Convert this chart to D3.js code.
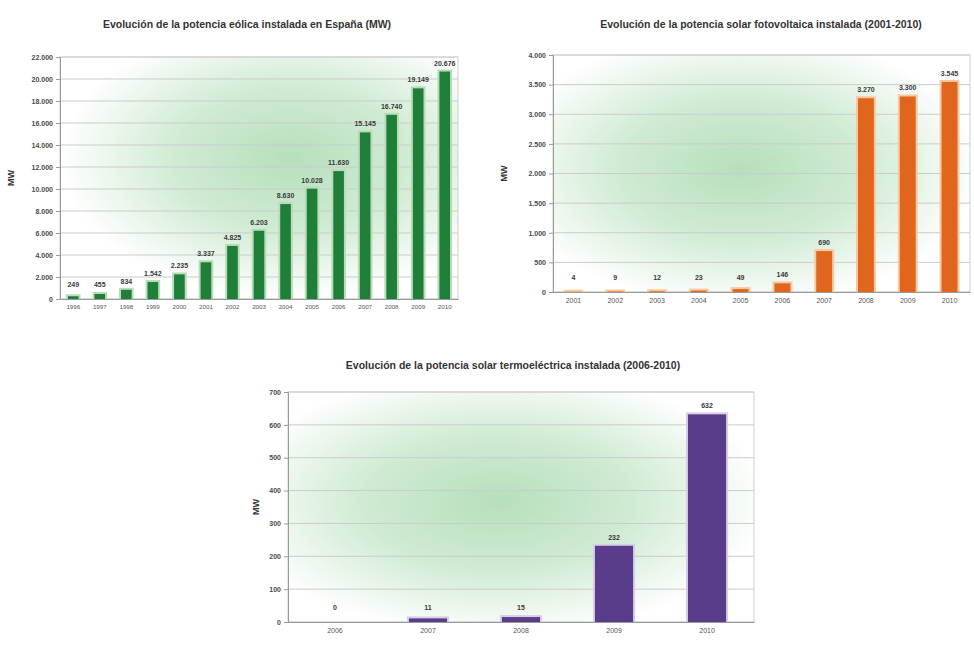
<!DOCTYPE html>
<html>
<head>
<meta charset="utf-8">
<script src="https://cdn.jsdelivr.net/npm/d3@7"></script>
<style>
  html, body { margin: 0; padding: 0; background: #fff; }
  svg { display: block; font-family: "Liberation Sans", Arial, sans-serif; }
</style>
</head>
<body>
<svg id="chart" width="974" height="646"></svg>
<script>
// Potencia eólica instalada (MW)
const windYears = ["1996","1997","1998","1999","2000","2001","2002","2003","2004","2005","2006","2007","2008","2009","2010"];
const windMW = [249, 455, 834, 1542, 2235, 3337, 4825, 6203, 8630, 10028, 11630, 15145, 16740, 19149, 20676];
const windTicks = [0, 2000, 4000, 6000, 8000, 10000, 12000, 14000, 16000, 18000, 20000, 22000];

// Potencia solar fotovoltaica instalada (MW)
const pvYears = ["2001","2002","2003","2004","2005","2006","2007","2008","2009","2010"];
const pvMW = [4, 9, 12, 23, 49, 146, 690, 3270, 3300, 3545];
const pvTicks = [0, 500, 1000, 1500, 2000, 2500, 3000, 3500, 4000];

// Potencia solar termoeléctrica instalada (MW)
const cspYears = ["2006","2007","2008","2009","2010"];
const cspMW = [0, 11, 15, 232, 632];
const cspTicks = [0, 100, 200, 300, 400, 500, 600, 700];

const titles = [
  "Evolución de la potencia eólica instalada en España (MW)",
  "Evolución de la potencia solar fotovoltaica instalada (2001-2010)",
  "Evolución de la potencia solar termoeléctrica instalada (2006-2010)"
];

const fmt = d3.formatLocale({decimal: ",", thousands: ".", grouping: [3], currency: ["", "€"]}).format(",d");

const svg = d3.select("#chart");
const defs = svg.append("defs");

function drawChart(opt) {
  const g = svg.append("g");
  const [x0, x1] = opt.xr, [yTop, yBot] = opt.yr;

  // soft green glow behind the plot
  const gid = "glow" + opt.id;
  const grad = defs.append("radialGradient").attr("id", gid)
    .attr("cx", opt.glow[0]).attr("cy", opt.glow[1]).attr("r", opt.glow[2]);
  grad.append("stop").attr("offset", "0%").attr("stop-color", "#b6dfbd");
  grad.append("stop").attr("offset", "50%").attr("stop-color", "#d0ebd3");
  grad.append("stop").attr("offset", "100%").attr("stop-color", "#ffffff");

  g.append("rect").attr("x", x0).attr("y", yTop).attr("width", x1 - x0).attr("height", yBot - yTop)
    .attr("fill", `url(#${gid})`);

  const x = d3.scaleBand().domain(opt.cats).range([x0, x1]).paddingInner(opt.pad).paddingOuter(0.3);
  const y = d3.scaleLinear().domain([0, d3.max(opt.ticks)]).range([yBot, yTop]);

  // grid lines
  g.append("g").selectAll("line").data(opt.ticks).join("line")
    .attr("x1", x0).attr("x2", x1).attr("y1", d => y(d)).attr("y2", d => y(d))
    .attr("stroke", "#c9cdc9").attr("stroke-width", 1);

  // frame
  g.append("rect").attr("x", x0).attr("y", yTop).attr("width", x1 - x0).attr("height", yBot - yTop)
    .attr("fill", "none").attr("stroke", "#cfcfcf");

  // y axis
  const ya = g.append("g").attr("transform", `translate(${x0},0)`)
    .call(d3.axisLeft(y).tickValues(opt.ticks).tickFormat(fmt).tickSize(4).tickPadding(3));
  ya.select(".domain").attr("stroke", "#9a9a9a");
  ya.selectAll(".tick line").attr("stroke", "#9a9a9a");
  ya.selectAll("text").attr("font-size", opt.tickFont).attr("fill", "#4a4a4a").attr("font-weight", "bold");

  // x axis
  const xa = g.append("g").attr("transform", `translate(0,${yBot})`)
    .call(d3.axisBottom(x).tickSize(0).tickPadding(6));
  xa.select(".domain").attr("stroke", "#9a9a9a");
  xa.selectAll("text").attr("font-size", opt.xFont).attr("fill", "#555");

  // bars: pale halo, then solid bar (only where there is a value)
  const present = opt.vals.map((v, i) => ({v, c: opt.cats[i]})).filter(d => d.v > 0);
  g.append("g").selectAll("rect").data(present).join("rect")
    .attr("x", d => x(d.c) - 2).attr("width", x.bandwidth() + 4)
    .attr("y", d => y(d.v) - 2).attr("height", d => yBot - y(d.v) + 2)
    .attr("fill", opt.halo);
  g.append("g").selectAll("rect").data(present).join("rect")
    .attr("x", d => x(d.c)).attr("width", x.bandwidth())
    .attr("y", d => y(d.v)).attr("height", d => yBot - y(d.v))
    .attr("fill", opt.color);

  // value labels
  g.append("g").selectAll("text").data(opt.vals).join("text")
    .attr("x", (d, i) => x(opt.cats[i]) + x.bandwidth() / 2)
    .attr("y", d => Math.min(y(d) - 6, yBot - 12))
    .attr("text-anchor", "middle").attr("font-size", opt.labelFont).attr("font-weight", "bold")
    .attr("fill", "#3a3a3a").text(d => fmt(d));

  // title
  g.append("text").attr("x", opt.titleX).attr("y", opt.titleY).attr("text-anchor", "middle")
    .attr("font-size", 10.5).attr("font-weight", "bold").attr("fill", "#333").text(opt.title);

  // unit label
  g.append("text").attr("transform", `translate(${opt.unitX},${(yTop + yBot) / 2}) rotate(-90)`)
    .attr("text-anchor", "middle").attr("font-size", 9).attr("font-weight", "bold")
    .attr("fill", "#333").text("MW");
}

drawChart({
  id: 1, cats: windYears, vals: windMW, ticks: windTicks,
  xr: [60, 458], yr: [57, 299], pad: 0.6,
  color: "#1f7e38", halo: "#b8dcb9",
  glow: ["58%", "42%", "58%"],
  tickFont: 7, xFont: 6.2, labelFont: 7,
  title: titles[0], titleX: 247, titleY: 28, unitX: 14
});

drawChart({
  id: 2, cats: pvYears, vals: pvMW, ticks: pvTicks,
  xr: [553, 970], yr: [55, 292], pad: 0.62,
  color: "#e0661e", halo: "#f8c9a0",
  glow: ["45%", "48%", "58%"],
  tickFont: 7, xFont: 7, labelFont: 7,
  title: titles[1], titleX: 761, titleY: 28, unitX: 507
});

drawChart({
  id: 3, cats: cspYears, vals: cspMW, ticks: cspTicks,
  xr: [288, 754], yr: [392, 622], pad: 0.59,
  color: "#5a3d8a", halo: "#d7cfe8",
  glow: ["45%", "48%", "58%"],
  tickFont: 7, xFont: 7, labelFont: 7,
  title: titles[2], titleX: 513, titleY: 369, unitX: 259
});
</script>
</body>
</html>
